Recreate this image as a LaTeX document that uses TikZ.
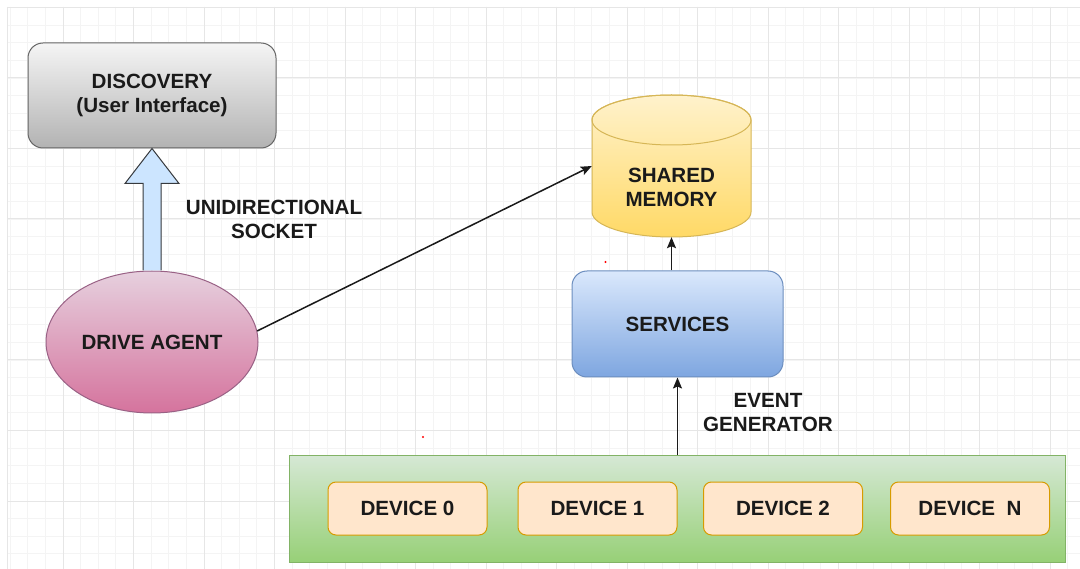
\documentclass[tikz,border=0pt]{standalone}
\usepackage{fontspec}
\setmainfont{Liberation Sans}
\usetikzlibrary{arrows.meta,calc}

\definecolor{txt}{HTML}{1A1A1A}
\definecolor{gridmajor}{HTML}{E6E6E6}
\definecolor{gridminor}{HTML}{F4F4F4}

\tikzset{
  lbl/.style={font=\bfseries\fontsize{20.6}{24}\selectfont, text=txt, align=center, inner sep=0pt},
  discbox/.style={lbl, draw=black!60, line width=1pt, rounded corners=15pt,
    top color=black!4, bottom color=black!30, minimum width=248, minimum height=105},
  agentshape/.style={lbl, ellipse, draw=HTML996185, line width=1pt,
    top color=HTMLE6D0DE, bottom color=HTMLD5739D, minimum width=212, minimum height=142},
  servbox/.style={lbl, draw=HTML6C8EBF, line width=1pt, rounded corners=15pt,
    top color=HTMLDAE8FC, bottom color=HTML7EA6E0, minimum width=211, minimum height=106},
  groupbox/.style={draw=HTML82B366, line width=1pt,
    top color=HTMLD5E8D4, bottom color=HTML97D077, minimum width=776, minimum height=106, inner sep=0pt},
  devbox/.style={lbl, draw=HTMLD79B00, line width=1pt, fill=HTMLFFE6CC, rounded corners=8pt,
    minimum width=159, minimum height=53},
  flow/.style={draw=txt, line width=1.5pt, -{Stealth[length=11pt,width=9pt,inset=2pt]}},
  hollowarrow/.style={draw=HTML36393D, line width=1pt, fill=HTMLCCE5FF, line join=miter},
}
% colours referenced by the styles above
\definecolor{HTML996185}{HTML}{996185}
\definecolor{HTMLE6D0DE}{HTML}{E6D0DE}
\definecolor{HTMLD5739D}{HTML}{D5739D}
\definecolor{HTML6C8EBF}{HTML}{6C8EBF}
\definecolor{HTMLDAE8FC}{HTML}{DAE8FC}
\definecolor{HTML7EA6E0}{HTML}{7EA6E0}
\definecolor{HTML82B366}{HTML}{82B366}
\definecolor{HTMLD5E8D4}{HTML}{D5E8D4}
\definecolor{HTML97D077}{HTML}{97D077}
\definecolor{HTMLD79B00}{HTML}{D79B00}
\definecolor{HTMLFFE6CC}{HTML}{FFE6CC}
\definecolor{HTML36393D}{HTML}{36393D}
\definecolor{HTMLCCE5FF}{HTML}{CCE5FF}
\definecolor{memtop}{HTML}{FFF2CC}
\definecolor{membot}{HTML}{FFD966}
\definecolor{memline}{HTML}{D6B656}

\usetikzlibrary{shapes.geometric}

\begin{document}
\begin{tikzpicture}[x=1pt,y=-1pt]
  \useasboundingbox (0,0) rectangle (1080,569);
  \fill[white] (0,0) rectangle (1080,569);

  % drawing grid
  \begin{scope}
    \clip (7,7) rectangle (1080,569);
    \foreach \k in {-3,...,58}
      \draw[gridminor, line width=0.8pt] ({63+17.625*\k},7) -- ({63+17.625*\k},569);
    \foreach \k in {0,...,32}
      \draw[gridminor, line width=0.8pt] (7,{7.5+17.625*\k}) -- (1080,{7.5+17.625*\k});
    \foreach \k in {0,...,15}
      \draw[gridmajor, line width=1pt] ({63+70.5*\k},7) -- ({63+70.5*\k},569);
    \foreach \k in {0,...,8}
      \draw[gridmajor, line width=1pt] (7,{7.5+70.5*\k}) -- (1080,{7.5+70.5*\k});
    \draw[gridmajor, line width=1pt] (7.5,7) -- (7.5,569);
  \end{scope}

  % components
  \node[discbox] (disc) at (152,95.5) {DISCOVERY\\(User Interface)};
  \node[agentshape] (agent) at (152,342) {DRIVE AGENT};
  \node[servbox] (serv) at (677.5,324) {SERVICES};

  % shared memory cylinder
  \node[minimum width=159, minimum height=142, inner sep=0pt] (mem) at (671.5,166) {};
  \shade[top color=memtop, bottom color=membot, draw=memline, line width=1pt]
    (592,120) -- (592,212) arc[start angle=180, end angle=0, x radius=79.5, y radius=25]
    -- (751,120) arc[start angle=0, end angle=-180, x radius=79.5, y radius=25] -- cycle;
  \draw[memline, line width=1pt] (671.5,120) ellipse[x radius=79.5, y radius=25];
  \node[lbl] (memlabel) at (671.5,187) {SHARED\\MEMORY};

  % device group
  \node[groupbox] (devs) at (677,509) {};
  \node[devbox] (dev0) at (407.5,508.5) {DEVICE 0};
  \node[devbox] (dev1) at (597.5,508.5) {DEVICE 1};
  \node[devbox] (dev2) at (783,508.5) {DEVICE 2};
  \node[devbox] (devn) at (970,508.5) {DEVICE\ \ N};

  % hollow socket arrow
  \draw[hollowarrow]
    ($(agent.north)+(-9,0)$) -- ($(disc.south)+(-9,35)$) -- ($(disc.south)+(-27,35)$)
    -- (disc.south) -- ($(disc.south)+(27,35)$) -- ($(disc.south)+(9,35)$)
    -- ($(agent.north)+(9,0)$);

  % connectors
  \draw[flow] (agent.6) -- (mem.west);
  \draw[flow] (serv.north -| mem.south) -- (mem.south);
  \draw[flow] (devs.north -| serv.south) -- (serv.south);

  % labels
  \node[lbl] (socketlabel) at (274,219) {UNIDIRECTIONAL\\SOCKET};
  \node[lbl] (eventlabel) at (768,412.5) {EVENT\\GENERATOR};

  % stray marks
  \fill[red] (605.5,262) circle (1.2);
  \fill[red] (423,437) circle (1.2);
\end{tikzpicture}
\end{document}
